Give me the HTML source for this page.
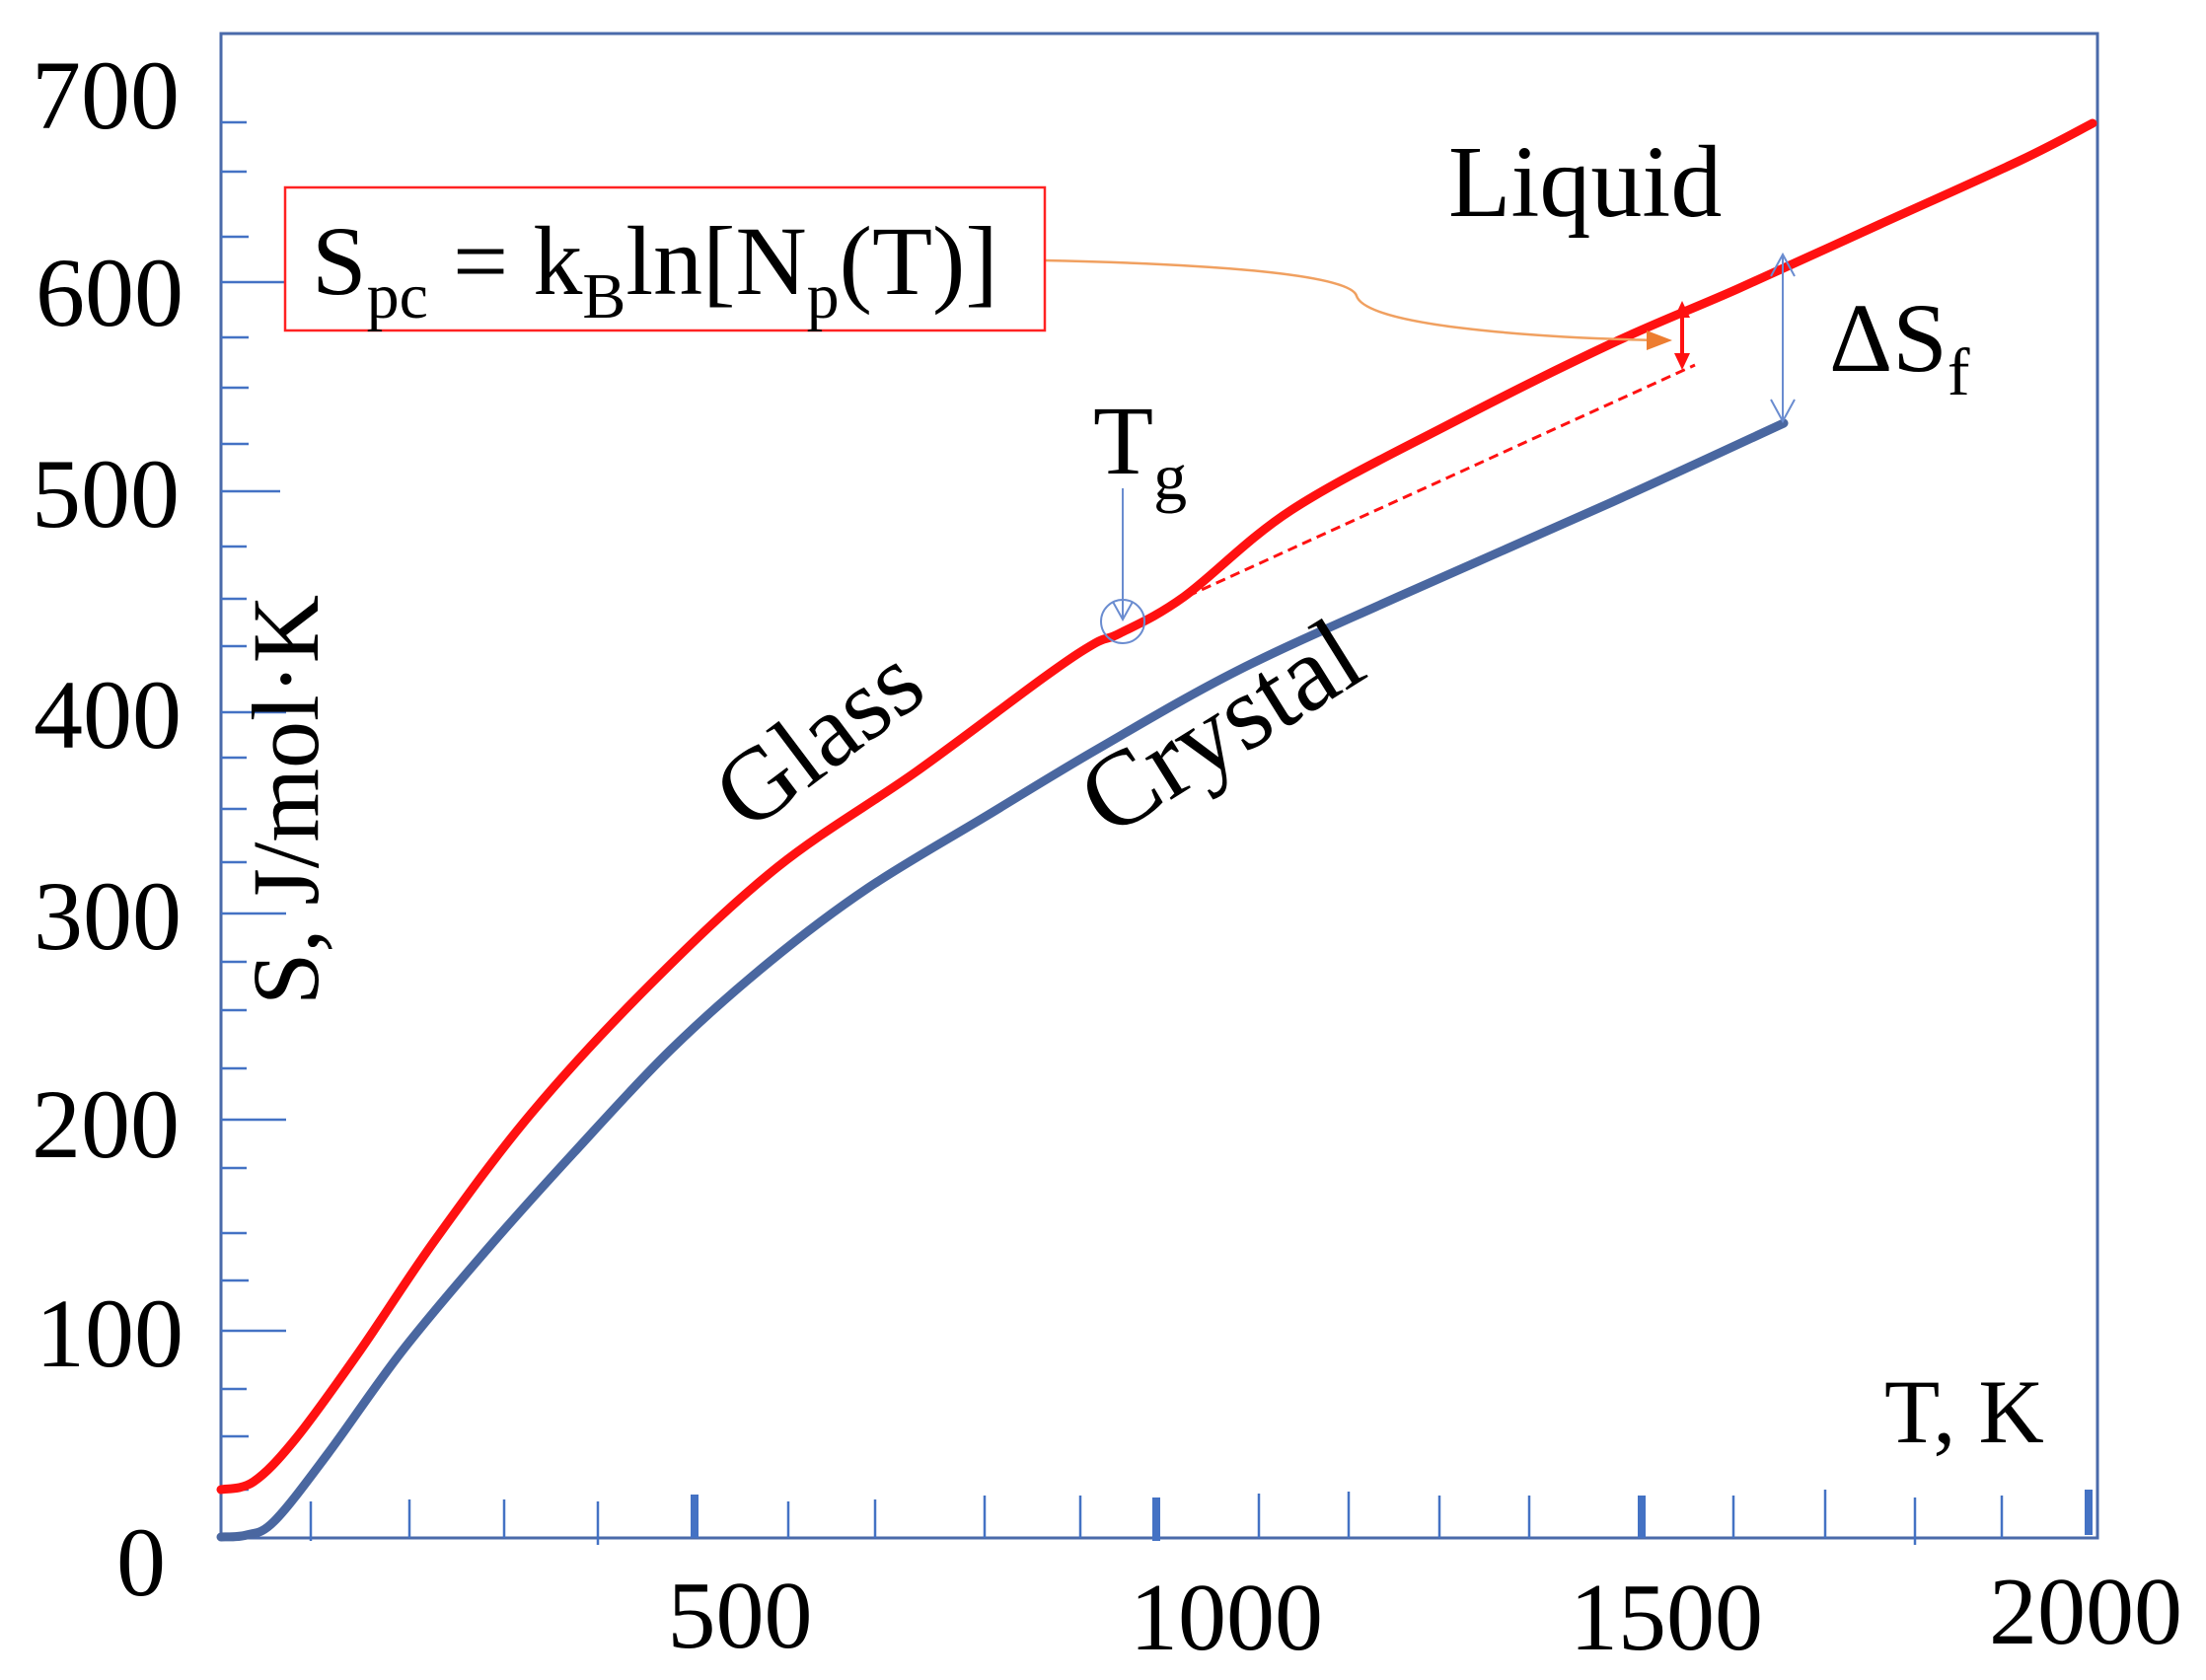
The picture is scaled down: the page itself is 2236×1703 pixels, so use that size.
<!DOCTYPE html>
<html><head><meta charset="utf-8"><style>
html,body{margin:0;padding:0;background:#fff;}
svg{display:block;}
text{font-family:"Liberation Serif",serif;fill:#000;}
</style></head><body>
<svg width="2236" height="1703" viewBox="0 0 2236 1703" xmlns="http://www.w3.org/2000/svg">
<rect x="224" y="34" width="1902" height="1525" fill="none" stroke="#4a6aaa" stroke-width="3"/>
<g stroke="#4472c4" stroke-width="2.5">
<line x1="224" y1="286" x2="290" y2="286"/><line x1="224" y1="498" x2="284" y2="498"/>
<line x1="224" y1="722" x2="290" y2="722"/><line x1="224" y1="926" x2="290" y2="926"/>
<line x1="224" y1="1135" x2="290" y2="1135"/><line x1="224" y1="1349" x2="290" y2="1349"/>
<line x1="224" y1="124" x2="250" y2="124"/><line x1="224" y1="174" x2="250" y2="174"/><line x1="224" y1="240" x2="252" y2="240"/>
<line x1="224" y1="342" x2="252" y2="342"/><line x1="224" y1="393" x2="252" y2="393"/><line x1="224" y1="450" x2="252" y2="450"/>
<line x1="224" y1="554" x2="250" y2="554"/><line x1="224" y1="607" x2="250" y2="607"/><line x1="224" y1="655" x2="250" y2="655"/>
<line x1="224" y1="768" x2="250" y2="768"/><line x1="224" y1="820" x2="250" y2="820"/><line x1="224" y1="874" x2="250" y2="874"/>
<line x1="224" y1="975" x2="250" y2="975"/><line x1="224" y1="1024" x2="250" y2="1024"/><line x1="224" y1="1083" x2="250" y2="1083"/>
<line x1="224" y1="1184" x2="250" y2="1184"/><line x1="224" y1="1250" x2="250" y2="1250"/><line x1="224" y1="1298" x2="252" y2="1298"/>
<line x1="224" y1="1408" x2="250" y2="1408"/><line x1="224" y1="1456" x2="252" y2="1456"/><line x1="224" y1="1510" x2="252" y2="1510"/>
</g>
<g stroke="#4472c4" stroke-width="2.5">
<line x1="315" y1="1522" x2="315" y2="1562"/><line x1="415" y1="1520" x2="415" y2="1559"/><line x1="511" y1="1520" x2="511" y2="1559"/>
<line x1="606" y1="1522" x2="606" y2="1566"/><line x1="799" y1="1522" x2="799" y2="1559"/><line x1="887" y1="1520" x2="887" y2="1559"/>
<line x1="998" y1="1516" x2="998" y2="1559"/><line x1="1095" y1="1516" x2="1095" y2="1559"/>
<line x1="1276" y1="1514" x2="1276" y2="1559"/><line x1="1367" y1="1512" x2="1367" y2="1559"/><line x1="1459" y1="1516" x2="1459" y2="1559"/>
<line x1="1550" y1="1516" x2="1550" y2="1559"/><line x1="1757" y1="1516" x2="1757" y2="1559"/><line x1="1850" y1="1510" x2="1850" y2="1559"/>
<line x1="1941" y1="1518" x2="1941" y2="1566"/><line x1="2029" y1="1516" x2="2029" y2="1559"/>
</g>
<g stroke="#4472c4" stroke-width="8">
<line x1="704" y1="1515" x2="704" y2="1559"/><line x1="1172" y1="1518" x2="1172" y2="1562"/>
<line x1="1664" y1="1516" x2="1664" y2="1559"/><line x1="2117" y1="1510" x2="2117" y2="1556"/>
</g>
<g font-size="100" text-anchor="end">
<text x="182" y="130">700</text><text x="186" y="330">600</text><text x="182" y="534">500</text>
<text x="184" y="758">400</text><text x="184" y="962">300</text><text x="182" y="1173">200</text>
<text x="186" y="1385">100</text><text x="168" y="1617">0</text>
</g>
<g font-size="98" text-anchor="middle">
<text x="750" y="1670">500</text><text x="1243" y="1672">1000</text><text x="1689" y="1672">1500</text><text x="2114" y="1666">2000</text>
</g>
<text x="1910" y="1462" font-size="92">T, K</text>
<text transform="translate(322,811) rotate(-90)" font-size="96" text-anchor="middle">S, J/mol·K</text>
<path id="blue" fill="none" stroke="#4a67a0" stroke-width="9" stroke-linejoin="round" stroke-linecap="round"/>
<path id="red" fill="none" stroke="#ff1111" stroke-width="9" stroke-linejoin="round" stroke-linecap="round"/>
<line x1="1189" y1="611" x2="1718" y2="370" stroke="#ff1111" stroke-width="3" stroke-dasharray="10,6"/>
<line x1="1705" y1="318" x2="1705" y2="362" stroke="#ff1111" stroke-width="4"/>
<polygon points="1705,305 1697,322 1713,322" fill="#ff1111"/><polygon points="1705,375 1697,358 1713,358" fill="#ff1111"/>
<g stroke="#6a8cd0" stroke-width="2" fill="none">
<line x1="1807" y1="258" x2="1807" y2="427"/>
<polyline points="1795,280 1807,258 1819,280"/><polyline points="1795,405 1807,427 1819,405"/>
<line x1="1138" y1="495" x2="1138" y2="628"/><polyline points="1128,610 1138,628 1148,610"/>
<circle cx="1138" cy="630" r="22"/>
</g>
<path d="M1059,264 C1250,268 1370,280 1375,300 C1385,330 1550,342 1680,345" fill="none" stroke="#f0a060" stroke-width="2.5"/>
<polygon points="1695,345 1669,335 1669,355" fill="#ed7d31"/>
<rect x="289" y="190" width="770" height="145" fill="#fff" stroke="#ff2222" stroke-width="2.5"/>
<text x="316" y="298" font-size="100">S<tspan font-size="66" dy="24">pc</tspan><tspan dy="-24"> = k</tspan><tspan font-size="66" dy="24">B</tspan><tspan dy="-24">ln[N</tspan><tspan font-size="66" dy="24">p</tspan><tspan dy="-24">(T)]</tspan></text>
<text x="1468" y="219" font-size="104">Liquid</text>
<text x="1854" y="376" font-size="100">ΔS<tspan font-size="68" dy="24">f</tspan></text>
<text x="1108" y="480" font-size="100">T<tspan font-size="68" dy="26">g</tspan></text>
<text transform="translate(758,845) rotate(-37)" font-size="104">Glass</text>
<text transform="translate(1124,850) rotate(-32)" font-size="108">Crystal</text>
</svg>
<script>
function cr(pts){var d="M"+pts[0][0]+","+pts[0][1];for(var i=0;i<pts.length-1;i++){var p0=pts[i-1]||pts[i],p1=pts[i],p2=pts[i+1],p3=pts[i+2]||p2;
d+=" C"+(p1[0]+(p2[0]-p0[0])/6)+","+(p1[1]+(p2[1]-p0[1])/6)+" "+(p2[0]-(p3[0]-p1[0])/6)+","+(p2[1]-(p3[1]-p1[1])/6)+" "+p2[0]+","+p2[1];}return d;}
document.getElementById("blue").setAttribute("d",cr([[224,1558],[250,1556],[278,1542],[332,1474],[408,1369],[495,1265],[582,1168],[680,1064],[780,975],[880,900],[1000,827],[1113,759],[1254,680],[1417,605],[1634,509],[1808,429]]));
document.getElementById("red").setAttribute("d",cr([[224,1510],[257,1502],[300,1458],[365,1369],[441,1257],[539,1128],[658,999],[788,879],[929,782],[1059,686],[1110,652],[1135,642],[1200,605],[1309,517],[1471,429],[1634,348],[1761,293],[1904,228],[2047,163],[2121,125]]));
</script>
</body></html>
